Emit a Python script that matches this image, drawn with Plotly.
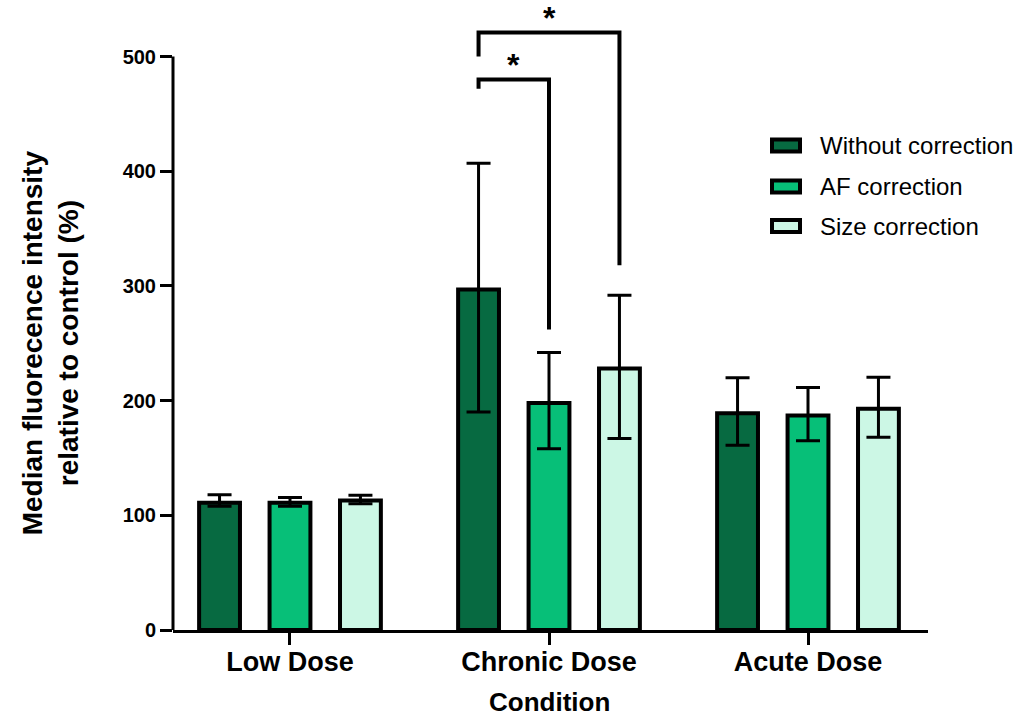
import plotly.graph_objects as go

# Conditions on the x axis
conditions = ["Low Dose", "Chronic Dose", "Acute Dose"]

# Median fluorescence intensity relative to control (%) for each correction method
without_correction = [111, 297, 189]
af_correction = [111, 198, 187]
size_correction = [113, 228, 193]

# Upper / lower error bar ends
without_upper = [118, 407, 220]
without_lower = [108, 190, 161]
af_upper = [115.5, 242, 211.5]
af_lower = [108, 158, 165]
size_upper = [117.5, 292, 220.5]
size_lower = [110, 167, 168]

series_names = ["Without correction", "AF correction", "Size correction"]
series_colors = ["#076A41", "#07BF78", "#CCF7E5"]

y_ticks = [0, 100, 200, 300, 400, 500]

FONT = "Liberation Sans, Arial, sans-serif"
BARGAP = 0.184
BARGROUPGAP = 0.42

fig = go.Figure()

series = [
    (without_correction, without_upper, without_lower),
    (af_correction, af_upper, af_lower),
    (size_correction, size_upper, size_lower),
]
for name, color, (vals, up, lo) in zip(series_names, series_colors, series):
    fig.add_trace(go.Bar(
        x=conditions,
        y=vals,
        name=name,
        marker=dict(color=color, line=dict(color="black", width=4)),
        error_y=dict(
            type="data",
            symmetric=False,
            array=[u - v for u, v in zip(up, vals)],
            arrayminus=[v - l for v, l in zip(vals, lo)],
            color="black",
            thickness=3,
            width=12,
        ),
        showlegend=False,
    ))

# Centre of each bar within a group, in category units
slot = (1 - BARGAP) / 3
bar_offset = [(i - 1) * slot for i in range(3)]
chronic = conditions.index("Chronic Dose")
x_without = chronic + bar_offset[0]
x_af = chronic + bar_offset[1]
x_size = chronic + bar_offset[2]

# Significance brackets: (x left, x right, left foot, top, right foot)
brackets = [
    (x_without, x_af, 472, 480, 262),
    (x_without, x_size, 500, 521, 318),
]
for xl, xr, yl, ytop, yr in brackets:
    fig.add_shape(
        type="path",
        path=f"M {xl} {yl} L {xl} {ytop} L {xr} {ytop} L {xr} {yr}",
        xref="x", yref="y",
        line=dict(color="black", width=4),
    )
    fig.add_annotation(
        x=(xl + xr) / 2, y=ytop, text="<b>*</b>", showarrow=False,
        xref="x", yref="y", yanchor="bottom", yshift=-5,
        font=dict(family=FONT, size=32, color="black"),
    )

# Y axis line spanning only the labelled range
fig.add_shape(
    type="line", xref="paper", yref="y", x0=0, x1=0, y0=0, y1=500,
    line=dict(color="black", width=3),
)

# Y axis title
fig.add_annotation(
    xref="paper", yref="y", x=-(173 - 50) / 755, y=250,
    xanchor="center", yanchor="middle",
    text="<b>Median fluorecence intensity<br>relative to control (%)</b>",
    textangle=-90, showarrow=False,
    font=dict(family=FONT, size=28, color="black"),
)

# X axis title
fig.add_annotation(
    xref="paper", yref="paper", x=(549 - 173) / 755, y=-(702 - 630) / 625,
    text="<b>Condition</b>", showarrow=False, yanchor="middle",
    font=dict(family=FONT, size=26, color="black"),
)

# Legend drawn as boxes and labels
legend_y = [145.5, 186.5, 226]
for name, color, ly in zip(series_names, series_colors, legend_y):
    fig.add_shape(
        type="rect", xref="paper", yref="paper",
        x0=(772 - 173) / 755, x1=(800 - 173) / 755,
        y0=(630 - ly - 6) / 625, y1=(630 - ly + 6) / 625,
        fillcolor=color, line=dict(color="black", width=4),
    )
    fig.add_annotation(
        xref="paper", yref="paper",
        x=(818 - 173) / 755, y=(630 - ly) / 625,
        text=name, showarrow=False, xanchor="left", yanchor="middle",
        font=dict(family=FONT, size=24, color="black"),
    )

fig.update_layout(
    width=1020, height=717,
    margin=dict(l=173, r=92, t=5, b=87),
    paper_bgcolor="white", plot_bgcolor="white",
    barmode="group", bargap=BARGAP, bargroupgap=BARGROUPGAP,
    font=dict(family=FONT, color="black"),
    xaxis=dict(
        range=[-0.4517, 2.4633],
        showline=True, linecolor="black", linewidth=3,
        ticks="outside", ticklen=12, tickwidth=3, tickcolor="black",
        tickfont=dict(family=FONT, size=27, weight="bold", color="black"),
        ticklabelstandoff=-6,
        showgrid=False, zeroline=False,
    ),
    yaxis=dict(
        range=[0, 545],
        tickvals=y_ticks,
        showline=False,
        ticks="outside", ticklen=12, tickwidth=3, tickcolor="black",
        tickfont=dict(family=FONT, size=20, weight="bold", color="black"),
        showgrid=False, zeroline=False,
    ),
)

fig.write_html("out.html")
